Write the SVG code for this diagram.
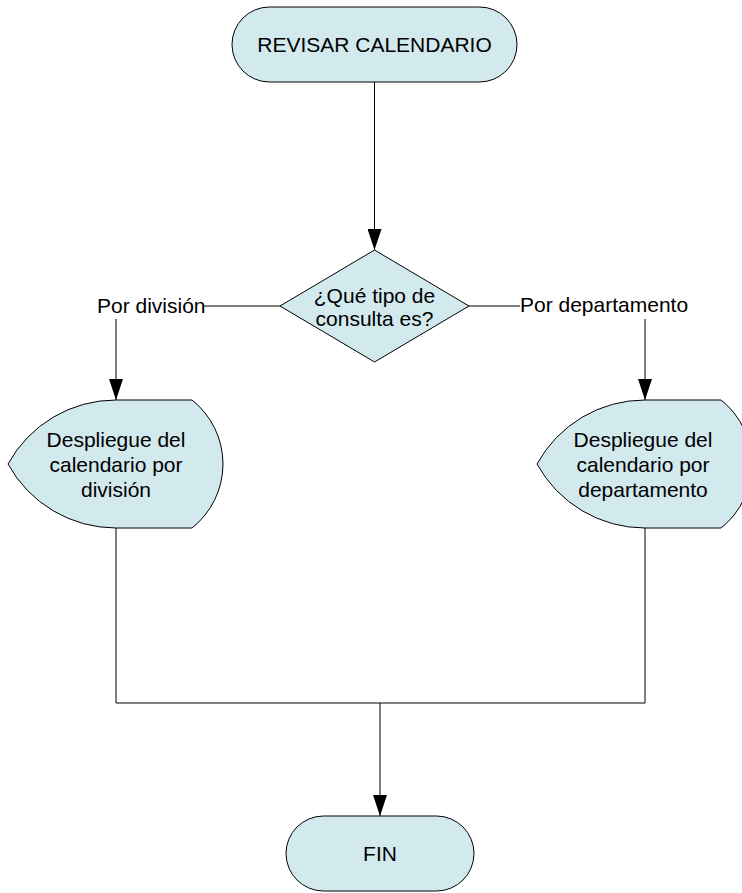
<svg xmlns="http://www.w3.org/2000/svg" width="742" height="893" viewBox="0 0 742 893">
<style>
.shape{fill:#D2E9EE;stroke:#000;stroke-width:1}
.t{font-family:"Liberation Sans",Arial,sans-serif;font-size:21px;fill:#000;text-anchor:middle}
.lbl{font-family:"Liberation Sans",Arial,sans-serif;font-size:21px;fill:#000}
.c{fill:none;stroke:#000;stroke-width:1}
</style>
<defs>
<marker id="arr" markerUnits="userSpaceOnUse" markerWidth="21" markerHeight="14" refX="21" refY="7" orient="auto" viewBox="0 0 21 14">
<path d="M0,0 L21,7 L0,14 Z" fill="#000"/>
</marker>
</defs>
<rect x="0" y="0" width="742" height="893" fill="#fff"/>
<g id="connectors">
<line class="c" x1="374.5" y1="82" x2="374.5" y2="250" marker-end="url(#arr)"/>
<line class="c" x1="280" y1="306" x2="204" y2="306"/>
<line class="c" x1="116" y1="319" x2="116" y2="400" marker-end="url(#arr)"/>
<line class="c" x1="469" y1="306" x2="520" y2="306"/>
<line class="c" x1="645" y1="319" x2="645" y2="400" marker-end="url(#arr)"/>
<polyline class="c" points="116,528 116,703 645,703 645,528"/>
<line class="c" x1="380" y1="703" x2="380" y2="816" marker-end="url(#arr)"/>
<text class="lbl" x="97" y="313">Por división</text>
<text class="lbl" x="520" y="312">Por departamento</text>
</g>
<g id="start">
<rect class="shape" x="232" y="7" width="285" height="75" rx="37.5" ry="37.5"/>
<text class="t" x="374.5" y="52">REVISAR CALENDARIO</text>
</g>
<g id="decision">
<polygon class="shape" points="374.5,250 469,306 374.5,362 280,306"/>
<text class="t" x="374.5" y="303">¿Qué tipo de</text>
<text class="t" x="374.5" y="326">consulta es?</text>
</g>
<g id="display-division">
<path class="shape" d="M116,400 L192,400 A81.6,81.6 0 0 1 192,528 L116,528 A123,123 0 0 1 8,464 A123,123 0 0 1 116,400 Z"/>
<text class="t" x="116" y="447">Despliegue del</text>
<text class="t" x="116" y="472">calendario por</text>
<text class="t" x="116" y="497">división</text>
</g>
<g id="display-departamento">
<path class="shape" d="M645,400 L721,400 A81.6,81.6 0 0 1 721,528 L645,528 A123,123 0 0 1 537,464 A123,123 0 0 1 645,400 Z"/>
<text class="t" x="643" y="447">Despliegue del</text>
<text class="t" x="643" y="472">calendario por</text>
<text class="t" x="643" y="497">departamento</text>
</g>
<g id="end">
<rect class="shape" x="286" y="816" width="188" height="75" rx="37.5" ry="37.5"/>
<text class="t" x="380" y="861">FIN</text>
</g>
</svg>
